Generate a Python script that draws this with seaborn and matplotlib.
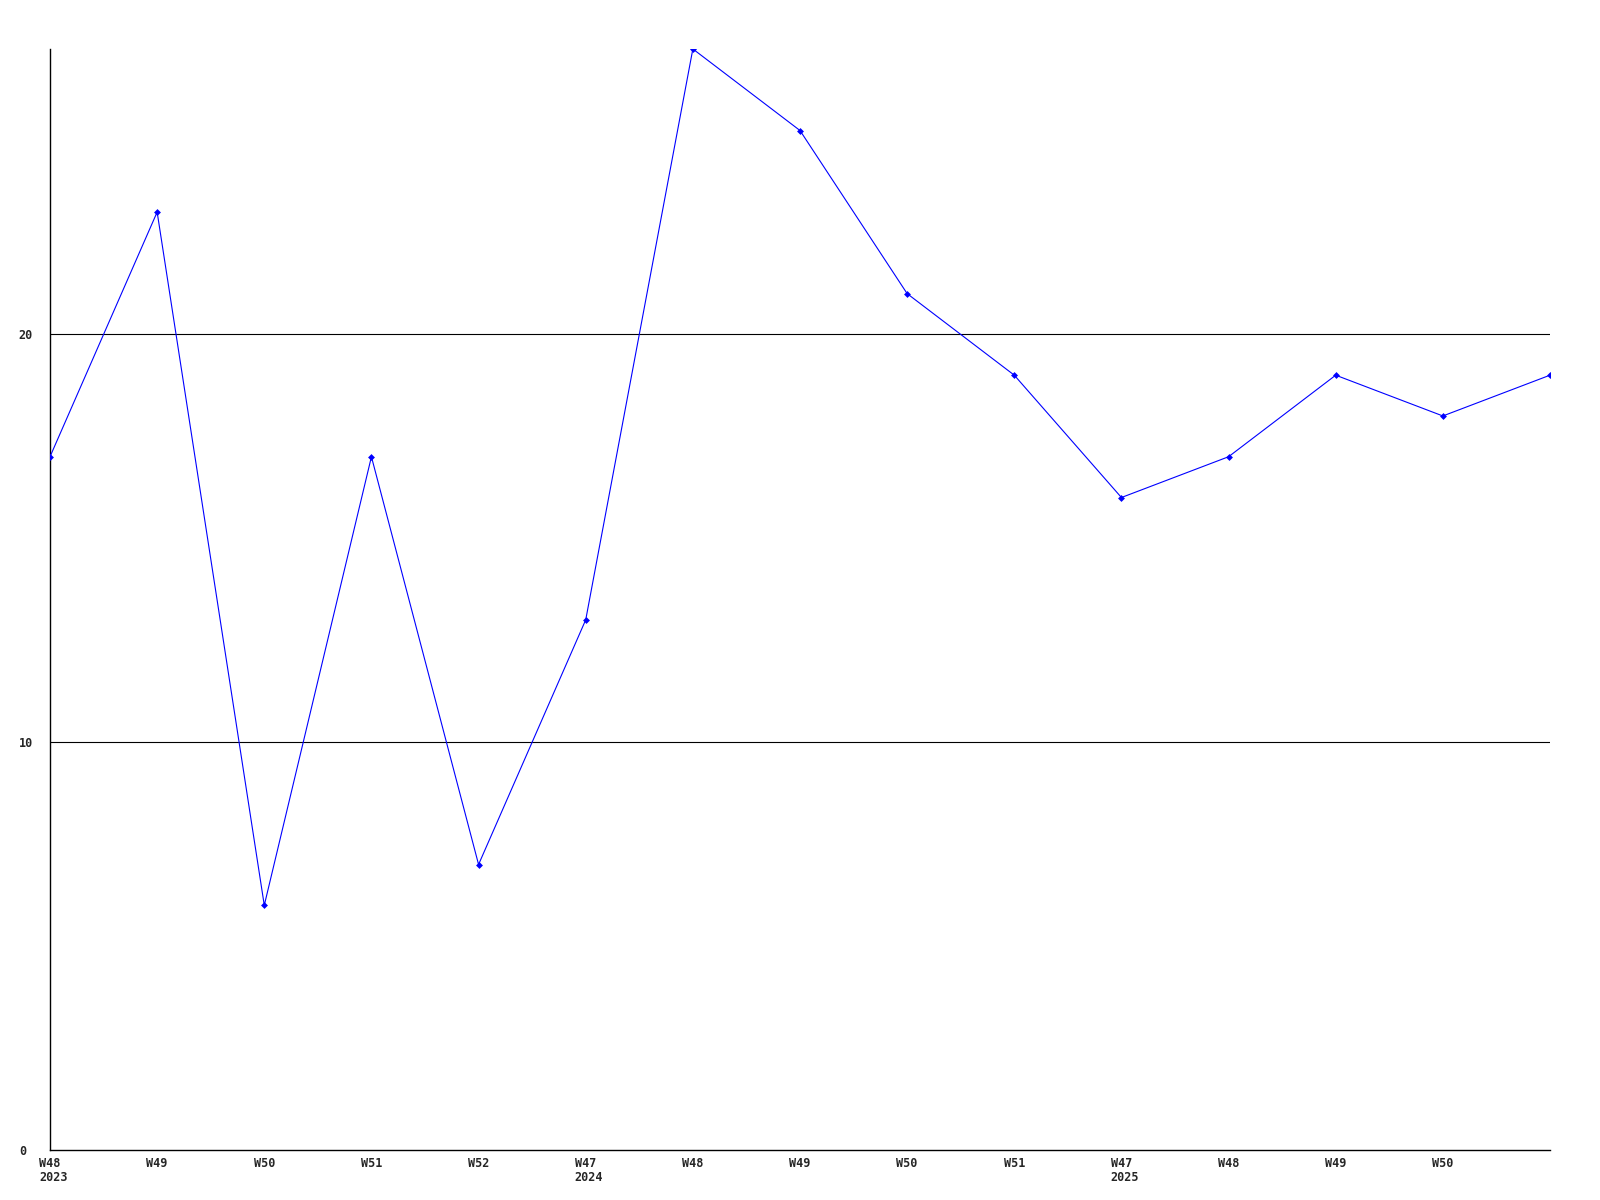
import matplotlib
matplotlib.use("Agg")
import matplotlib.pyplot as plt
import seaborn as sns
import pandas as pd

# weekly values
weeks = ["W48", "W49", "W50", "W51", "W52", "W47", "W48", "W49", "W50", "W51",
         "W47", "W48", "W49", "W50", ""]
years = ["2023", "", "", "", "", "2024", "", "", "", "", "2025", "", "", "", ""]
values = [17, 23, 6, 17, 7, 13, 27, 25, 21, 19, 16, 17, 19, 18, 19]
y_ticks = [0, 10, 20]

sns.set_style("white")
plt.rcParams['font.family'] = ['DejaVu Sans Mono', 'DejaVu Sans']

df = pd.DataFrame({"pos": range(len(values)), "value": values})

fig = plt.figure(figsize=(16, 12), dpi=100)
ax = fig.add_axes([0.03125, 0.0417, 0.9375, 0.9175])

for y in y_ticks[1:]:
    ax.axhline(y, color="black", linewidth=0.8, zorder=1)

sns.lineplot(data=df, x="pos", y="value", ax=ax, color="#0000ff",
             linewidth=0.8, marker="D", markersize=3.5, markeredgewidth=0, zorder=3)

ax.set_xlim(0, len(values) - 1)
ax.set_ylim(0, 27)
ax.set_xlabel("")
ax.set_ylabel("")

ax.set_xticks(list(df["pos"]))
ax.set_xticklabels(weeks, fontsize=8.5, fontweight="bold")

# year goes under the week label, left edge lined up with it
for p, yr in zip(df["pos"], years):
    if yr:
        ax.annotate(yr, xy=(p, 0), xycoords="data", xytext=(-11, -21),
                    textcoords="offset pixels", ha="left", va="top",
                    fontsize=8.5, fontweight="bold", annotation_clip=False)

# y labels sit left-aligned in the margin
ax.set_yticks(y_ticks)
ax.set_yticklabels([str(t) for t in y_ticks], fontsize=8.5, fontweight="bold",
                   ha="left")
ax.tick_params(axis="both", length=0)
ax.tick_params(axis="y", pad=22.5)
ax.tick_params(axis="x", pad=5)

for side in ["top", "right"]:
    ax.spines[side].set_visible(False)
for side in ["left", "bottom"]:
    ax.spines[side].set_color("black")
    ax.spines[side].set_linewidth(1)

fig.savefig("out.png", dpi=100, facecolor="white")
